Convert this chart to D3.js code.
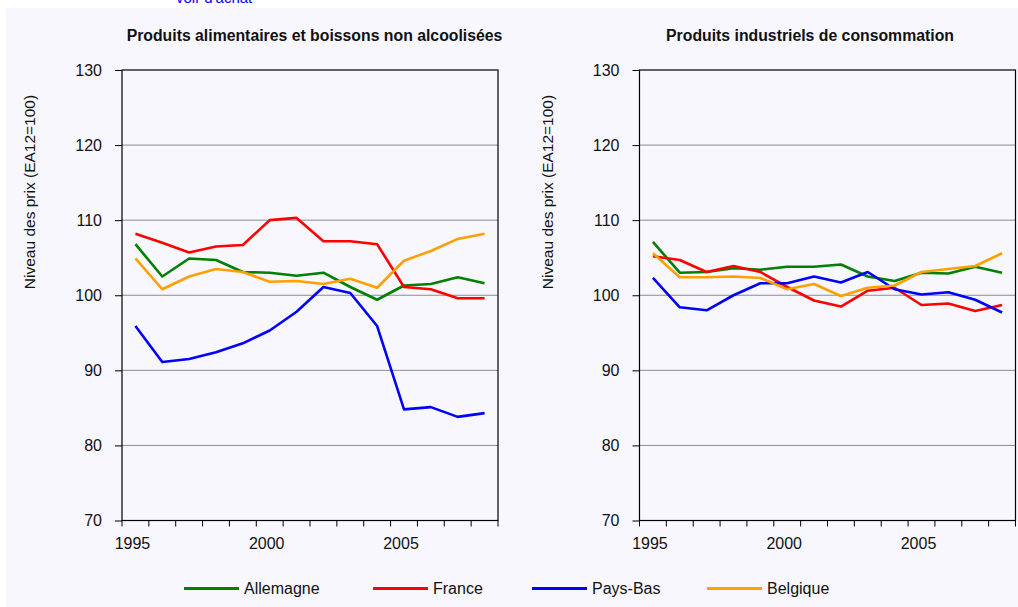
<!DOCTYPE html>
<html>
<head>
<meta charset="utf-8">
<script src="https://cdn.jsdelivr.net/npm/d3@7"></script>
<style>
  body { margin: 0; background: #fff; }
  svg { display: block; font-family: "Liberation Sans", Arial, sans-serif; }
</style>
</head>
<body>
<svg id="chart" width="1018" height="607"></svg>
<script>
// data
var years = [1995, 1996, 1997, 1998, 1999, 2000, 2001, 2002, 2003, 2004, 2005, 2006, 2007, 2008]
var yearLabels = [1995, 2000, 2005]
var yTicks = [70, 80, 90, 100, 110, 120, 130]
var countries = ['Allemagne', 'France', 'Pays-Bas', 'Belgique']
var colors = ['#008000', '#ff0000', '#0000ff', '#ffa000']

// Produits alimentaires et boissons non alcoolisées
var foodAllemagne = [106.8, 102.5, 104.9, 104.7, 103.1, 103.0, 102.6, 103.0, 101.1, 99.4, 101.3, 101.5, 102.4, 101.6]
var foodFrance = [108.2, 107.0, 105.7, 106.5, 106.7, 110.0, 110.3, 107.2, 107.2, 106.8, 101.1, 100.8, 99.6, 99.6]
var foodPaysBas = [95.9, 91.1, 91.5, 92.4, 93.6, 95.3, 97.8, 101.1, 100.3, 95.9, 84.8, 85.1, 83.8, 84.3]
var foodBelgique = [104.9, 100.8, 102.5, 103.5, 103.1, 101.8, 101.9, 101.5, 102.2, 101.0, 104.6, 105.9, 107.5, 108.2]

// Produits industriels de consommation
var indAllemagne = [107.1, 103.0, 103.1, 103.6, 103.4, 103.8, 103.8, 104.1, 102.5, 101.9, 103.0, 102.9, 103.8, 103.0]
var indFrance = [105.2, 104.7, 103.1, 103.9, 103.1, 101.1, 99.3, 98.5, 100.6, 101.0, 98.7, 98.9, 97.9, 98.7]
var indPaysBas = [102.3, 98.4, 98.0, 100.0, 101.6, 101.6, 102.5, 101.7, 103.1, 100.8, 100.1, 100.4, 99.4, 97.7]
var indBelgique = [105.6, 102.4, 102.4, 102.5, 102.3, 100.8, 101.5, 99.9, 101.0, 101.3, 103.1, 103.5, 103.9, 105.6]

var panels = [
  { title: 'Produits alimentaires et boissons non alcoolisées', left: 122, titleX: 314.5, series: [foodAllemagne, foodFrance, foodPaysBas, foodBelgique] },
  { title: 'Produits industriels de consommation', left: 639.5, titleX: 810, series: [indAllemagne, indFrance, indPaysBas, indBelgique] }
]

var plotW = 376
var plotTop = 70, plotBottom = 520.5

var svg = d3.select('#chart')

// page background
svg.append('rect').attr('x', 6).attr('y', 8).attr('width', 1012).attr('height', 599).attr('fill', '#f7f7fd')

// clipped link text at the top
svg.append('text')
  .attr('x', 176).attr('y', 3)
  .attr('fill', '#0000ff')
  .style('font-size', '15px')
  .text("voir d'achat")

var y = d3.scaleLinear().domain([70, 130]).range([plotBottom, plotTop])

panels.forEach(p => {
  var x = d3.scaleBand().domain(years).range([p.left, p.left + plotW])
  var g = svg.append('g')

  // title
  g.append('text')
    .attr('x', p.titleX)
    .attr('y', 41)
    .attr('text-anchor', 'middle')
    .style('font-size', '15.8px')
    .style('font-weight', 'bold')
    .attr('fill', '#111')
    .text(p.title)

  // grid
  g.append('g')
    .selectAll('line')
    .data(yTicks.slice(1, -1))
    .enter()
    .append('line')
    .attr('x1', p.left).attr('x2', p.left + plotW)
    .attr('y1', d => y(d)).attr('y2', d => y(d))
    .attr('stroke', '#8c8c8c')
    .attr('stroke-width', 1)

  // frame
  g.append('rect')
    .attr('x', p.left).attr('y', plotTop)
    .attr('width', plotW).attr('height', plotBottom - plotTop)
    .attr('fill', 'none')
    .attr('stroke', '#000')
    .attr('stroke-width', 1.2)

  // y axis
  var yAxis = g.append('g')
    .attr('transform', `translate(${p.left},0)`)
    .call(d3.axisLeft(y).tickValues(yTicks).tickSize(7).tickPadding(13).tickFormat(d3.format('d')))
  yAxis.select('.domain').remove()
  yAxis.selectAll('line').attr('stroke', '#000')
  yAxis.selectAll('text').style('font-size', '16px').attr('fill', '#111').attr('font-family', null)

  // y axis title
  g.append('text')
    .attr('transform', `translate(${p.left - 87},192) rotate(-90)`)
    .attr('text-anchor', 'middle')
    .style('font-size', '15.5px')
    .attr('fill', '#111')
    .text('Niveau des prix (EA12=100)')

  // x ticks at category boundaries
  var bounds = years.map(d => x(d)).concat([x(years[years.length - 1]) + x.bandwidth()])
  g.append('g')
    .selectAll('line')
    .data(bounds)
    .enter()
    .append('line')
    .attr('x1', d => d).attr('x2', d => d)
    .attr('y1', plotBottom).attr('y2', plotBottom + 6)
    .attr('stroke', '#000')

  g.append('g')
    .selectAll('text')
    .data(yearLabels)
    .enter()
    .append('text')
    .attr('x', d => x(d) + x.bandwidth() / 2 - 3)
    .attr('y', 549)
    .attr('text-anchor', 'middle')
    .style('font-size', '16px')
    .attr('fill', '#111')
    .text(d => d)

  // series
  var line = d3.line()
    .x((d, i) => x(years[i]) + x.bandwidth() / 2)
    .y(d => y(d))

  p.series.forEach((s, i) => {
    g.append('path')
      .datum(s)
      .attr('d', line)
      .attr('fill', 'none')
      .attr('stroke', colors[i])
      .attr('stroke-width', 2.6)
      .attr('stroke-linejoin', 'round')
  })
})

// legend
var legendX = [184, 373, 532, 707]
var legend = svg.append('g')
countries.forEach((c, i) => {
  legend.append('line')
    .attr('x1', legendX[i]).attr('x2', legendX[i] + 55)
    .attr('y1', 588.5).attr('y2', 588.5)
    .attr('stroke', colors[i])
    .attr('stroke-width', 3)
  legend.append('text')
    .attr('x', legendX[i] + 60)
    .attr('y', 594)
    .style('font-size', '16px')
    .attr('fill', '#111')
    .text(c)
})
</script>
</body>
</html>
